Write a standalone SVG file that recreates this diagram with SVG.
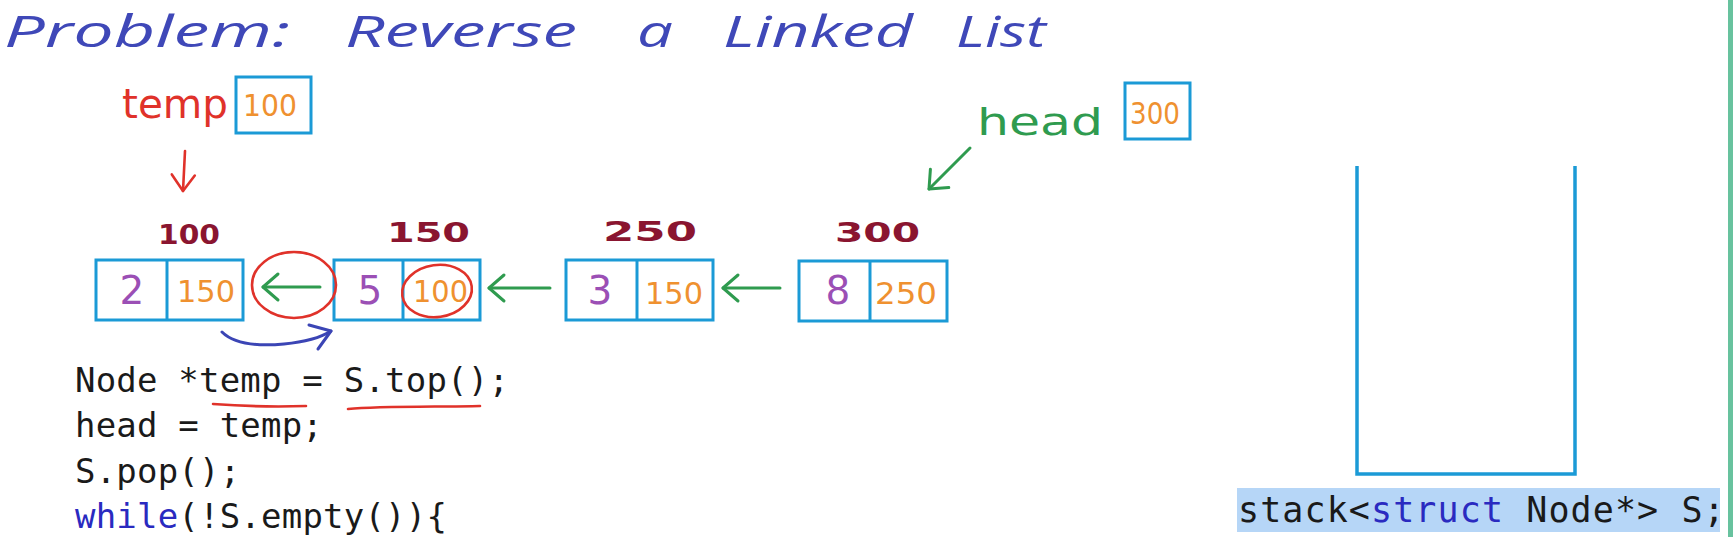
<svg xmlns="http://www.w3.org/2000/svg" width="1733" height="537" viewBox="0 0 1733 537">
<style>
.hand{font-family:"DejaVu Sans","Noto Sans",sans-serif}
.title{fill:#3f48b8;font-size:44px;font-style:italic;font-family:"Open Sans","DejaVu Sans",sans-serif}
.box{fill:none;stroke:#1b9ad6;stroke-width:3}
.addr{fill:#8a1530;font-size:26px;font-weight:bold}
.data{fill:#9b4fb5;font-size:39px;font-family:"DejaVu Sans",sans-serif;text-anchor:middle}
.ptr{fill:#ef9130;font-size:31px;font-family:"DejaVu Sans",sans-serif}
.code{font-family:"DejaVu Sans Mono","Liberation Mono",monospace;font-size:34px;letter-spacing:0.2px;fill:#1a1a1a}
.kw{fill:#2a2ac0}
.g{fill:none;stroke:#2f9b4f;stroke-width:3;stroke-linecap:round}
.r{fill:none;stroke:#e0322a;stroke-width:2.6;stroke-linecap:round}
.b{fill:none;stroke:#3b45b5;stroke-width:3;stroke-linecap:round;stroke-linejoin:round}
</style>
<defs>
<marker id="ag" markerUnits="userSpaceOnUse" markerWidth="30" markerHeight="30" refX="0" refY="0" viewBox="-20 -15 24 30" orient="auto" overflow="visible">
<path d="M-15,-13 L0,0 L-15,13" fill="none" stroke="#2f9b4f" stroke-width="3" stroke-linecap="round" stroke-linejoin="round"/>
</marker>
<marker id="ar" markerUnits="userSpaceOnUse" markerWidth="30" markerHeight="30" refX="0" refY="0" viewBox="-20 -15 24 30" orient="auto" overflow="visible">
<path d="M-16,-11 L0,0 L-16,12" fill="none" stroke="#e0322a" stroke-width="2.6" stroke-linecap="round" stroke-linejoin="round"/>
</marker>
</defs>
<rect width="1733" height="537" fill="#ffffff"/>
<rect x="1728" y="0" width="5" height="537" fill="#68c29e"/>

<g id="title" class="title">
<text x="4" y="47" textLength="286" lengthAdjust="spacingAndGlyphs">Problem:</text>
<text x="345" y="47" textLength="232" lengthAdjust="spacingAndGlyphs">Reverse</text>
<text x="637" y="47" textLength="36" lengthAdjust="spacingAndGlyphs">a</text>
<text x="723" y="47" textLength="190" lengthAdjust="spacingAndGlyphs">Linked</text>
<text x="956" y="47" textLength="90" lengthAdjust="spacingAndGlyphs">List</text>
</g>

<g id="temp">
<text class="hand" x="122" y="118" font-size="40" fill="#e0322a" textLength="106" lengthAdjust="spacingAndGlyphs">temp</text>
<rect class="box" x="236" y="77" width="75" height="56"/>
<text class="ptr" x="243" y="116" textLength="54" lengthAdjust="spacingAndGlyphs">100</text>
</g>

<g id="head">
<text class="hand" x="977" y="135" font-size="38" fill="#2f9b4f" textLength="126" lengthAdjust="spacingAndGlyphs">head</text>
<rect class="box" x="1125" y="83" width="65" height="56"/>
<text class="ptr" x="1130" y="124" textLength="50" lengthAdjust="spacingAndGlyphs">300</text>
</g>

<g id="node-100">
<text class="hand addr" x="158" y="244" textLength="62" lengthAdjust="spacingAndGlyphs">100</text>
<rect class="box" x="96" y="260" width="147" height="60"/>
<line class="box" x1="167" y1="260" x2="167" y2="320"/>
<text class="data" x="132" y="304">2</text>
<text class="ptr" x="177" y="302" textLength="58" lengthAdjust="spacingAndGlyphs">150</text>
</g>

<g id="node-150">
<text class="hand addr" x="387" y="242" textLength="83" lengthAdjust="spacingAndGlyphs">150</text>
<rect class="box" x="334" y="260" width="146" height="60"/>
<line class="box" x1="403" y1="260" x2="403" y2="320"/>
<text class="data" x="370" y="304">5</text>
<text class="ptr" x="413" y="302" textLength="55" lengthAdjust="spacingAndGlyphs">100</text>
</g>

<g id="node-250">
<text class="hand addr" x="603" y="241" textLength="94" lengthAdjust="spacingAndGlyphs">250</text>
<rect class="box" x="566" y="260" width="147" height="60"/>
<line class="box" x1="637" y1="260" x2="637" y2="320"/>
<text class="data" x="600" y="304">3</text>
<text class="ptr" x="645" y="304" textLength="58" lengthAdjust="spacingAndGlyphs">150</text>
</g>

<g id="node-300">
<text class="hand addr" x="835" y="242" textLength="85" lengthAdjust="spacingAndGlyphs">300</text>
<rect class="box" x="799" y="261" width="148" height="60"/>
<line class="box" x1="870" y1="261" x2="870" y2="321"/>
<text class="data" x="838" y="304">8</text>
<text class="ptr" x="875" y="304" textLength="62" lengthAdjust="spacingAndGlyphs">250</text>
</g>

<g id="connectors">
<path class="r" d="M185,151 L183,191" marker-end="url(#ar)"/>
<path class="g" d="M970,148 L929,189" marker-end="url(#ag)"/>
<path class="g" d="M320,287 L263,287" marker-end="url(#ag)"/>
<path class="g" d="M550,288 L489,288" marker-end="url(#ag)"/>
<path class="g" d="M780,288 L723,288" marker-end="url(#ag)"/>
<ellipse class="r" cx="294" cy="285" rx="42" ry="33"/>
<ellipse class="r" cx="437" cy="291" rx="35" ry="26" transform="rotate(-8 437 291)"/>
<path class="b" d="M222,332 C236,346 262,346 284,344 C305,342 320,338 331,331"/>
<path class="b" d="M309,325 L331,331 L318,349"/>
<path class="r" d="M213,404 C240,406 275,407 306,406"/>
<path class="r" d="M348,409 C380,406 440,407 480,406"/>
</g>

<g id="code" class="code">
<text x="75" y="392">Node *temp = S.top();</text>
<text x="75" y="437">head = temp;</text>
<text x="75" y="483">S.pop();</text>
<text x="75" y="528"><tspan class="kw">while</tspan>(!S.empty()){</text>
</g>

<g id="stack">
<polyline points="1357,166 1357,474 1575,474 1575,166" fill="none" stroke="#1b9ad6" stroke-width="3.5"/>
<rect x="1237" y="488" width="483" height="44" fill="#b6d6f7"/>
<text class="code" x="1238" y="522" style="font-size:35px;letter-spacing:1.1px">stack&lt;<tspan class="kw">struct</tspan> Node*&gt; S;</text>
</g>
</svg>
